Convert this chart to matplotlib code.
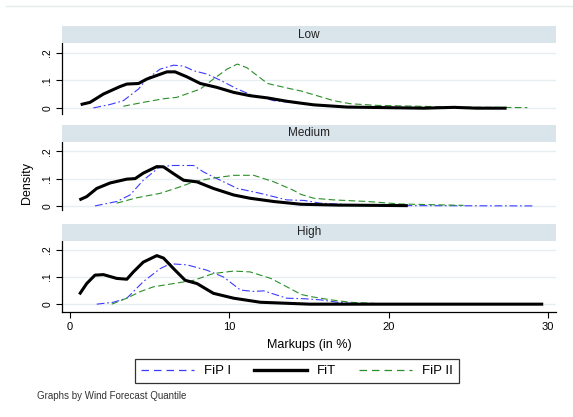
import matplotlib
matplotlib.use('Agg')
from matplotlib import pyplot as plt
from matplotlib.lines import Line2D
from matplotlib.patches import Rectangle

plt.rcParams['font.family'] = ['Liberation Sans', 'DejaVu Sans']

panels = ['Low', 'Medium', 'High']

# markups (in %) and density values
fit_low_x = [0.67, 1.26, 2.1, 3.14, 3.57, 4.3, 4.82, 6.08, 6.6, 7.34, 8.18, 9.22, 10.27, 11.3,
             12.4, 13.6, 14.5, 15.3, 17.4, 22.2, 24.1, 25.5, 27.4]
fit_low_y = [0.013, 0.021, 0.051, 0.078, 0.087, 0.089, 0.105, 0.131, 0.131, 0.113, 0.089, 0.075,
             0.057, 0.045, 0.037, 0.025, 0.018, 0.012, 0.004, 0.0, 0.003, 0.0, 0.0]
fip1_low_x = [1.47, 2.5, 3.35, 4.3, 4.82, 5.66, 6.5, 7.13, 7.76, 8.6, 9.43, 10.5, 11.3, 12.8,
              14.0, 15.5]
fip1_low_y = [0.001, 0.013, 0.027, 0.069, 0.105, 0.141, 0.155, 0.152, 0.135, 0.123, 0.101, 0.069,
              0.05, 0.027, 0.02, 0.012]
fip2_low_x = [3.35, 4.6, 5.87, 6.7, 8.18, 9.0, 9.86, 10.5, 11.1, 12.4, 13.6, 14.5, 15.5, 16.55,
              17.6, 19.3, 21.8, 23.9, 28.7]
fip2_low_y = [0.007, 0.021, 0.034, 0.039, 0.069, 0.105, 0.141, 0.159, 0.146, 0.089, 0.073, 0.062,
              0.045, 0.027, 0.016, 0.01, 0.007, 0.004, 0.002]

fit_med_x = [0.59, 1.05, 1.68, 2.52, 3.57, 4.09, 4.6, 5.45, 5.87, 6.5, 7.13, 7.97, 9.0, 10.27,
             11.3, 12.8, 14.5, 16.8, 21.2]
fit_med_y = [0.022, 0.034, 0.064, 0.084, 0.098, 0.1, 0.12, 0.144, 0.143, 0.118, 0.094, 0.088,
             0.064, 0.04, 0.028, 0.016, 0.006, 0.003, 0.001]
fip1_med_x = [1.57, 2.93, 3.77, 4.6, 5.55, 6.29, 7.76, 8.39, 9.22, 10.5, 11.95, 13.6, 14.7, 15.7,
              17.6, 21.0, 29.1]
fip1_med_y = [0.0, 0.016, 0.04, 0.094, 0.139, 0.148, 0.148, 0.124, 0.1, 0.064, 0.046, 0.022,
              0.02, 0.01, 0.004, 0.001, 0.0]
fip2_med_x = [2.93, 4.2, 5.66, 6.92, 7.76, 8.8, 10.27, 11.53, 12.8, 14.0, 14.5, 15.3, 16.55, 18.7,
              20.75, 23.9, 24.7]
fip2_med_y = [0.01, 0.03, 0.046, 0.07, 0.088, 0.1, 0.112, 0.112, 0.088, 0.058, 0.042, 0.028,
              0.022, 0.016, 0.007, 0.003, 0.002]

fit_high_x = [0.59, 1.05, 1.57, 2.1, 2.93, 3.57, 3.98, 4.6, 5.45, 5.87, 6.5, 7.23, 7.97, 9.0,
              10.27, 11.95, 15.05, 29.7]
fit_high_y = [0.036, 0.076, 0.107, 0.109, 0.095, 0.092, 0.119, 0.155, 0.179, 0.17, 0.131, 0.088,
              0.076, 0.04, 0.022, 0.007, 0.0, 0.0]
fip1_high_x = [1.68, 2.72, 3.57, 4.6, 5.66, 6.29, 7.34, 8.6, 9.64, 10.7, 11.5, 12.16, 13.6, 14.7,
               15.7, 16.8, 17.9]
fip1_high_y = [0.0, 0.007, 0.022, 0.083, 0.131, 0.149, 0.145, 0.125, 0.1, 0.052, 0.047, 0.049,
               0.022, 0.02, 0.016, 0.007, 0.002]
fip2_high_x = [2.62, 3.57, 4.4, 5.24, 6.5, 7.76, 9.0, 10.27, 11.3, 12.6, 13.8, 14.5, 15.1, 16.35,
               17.6, 19.3, 26.2]
fip2_high_y = [0.0, 0.022, 0.046, 0.064, 0.076, 0.088, 0.113, 0.122, 0.119, 0.095, 0.058, 0.036,
               0.028, 0.016, 0.007, 0.002, 0.0]

series = {
    'Low': [(fip1_low_x, fip1_low_y), (fit_low_x, fit_low_y), (fip2_low_x, fip2_low_y)],
    'Medium': [(fip1_med_x, fip1_med_y), (fit_med_x, fit_med_y), (fip2_med_x, fip2_med_y)],
    'High': [(fip1_high_x, fip1_high_y), (fit_high_x, fit_high_y), (fip2_high_x, fip2_high_y)],
}
legend_labels = ['FiP I', 'FiT', 'FiP II']

W, H = 573, 417
fig = plt.figure(figsize=(W / 100, H / 100), dpi=100)

# panel boxes in pixels: top, bottom of plot region, ylim bottom
boxes = {'Low': (43.3, 114, -0.021), 'Medium': (142, 210, -0.015), 'High': (240.7, 312.3, -0.030)}
strip_h = 17
left, right = 62, 556
blue = '#3b3bff'
green = '#2a8f2a'

for name in panels:
    top, bot, ylo = boxes[name]
    ax = fig.add_axes([left / W, 1 - bot / H, (right - left) / W, (bot - top) / H])
    fip1, fit, fip2 = series[name]
    ax.plot(fip1[0], fip1[1], color=blue, lw=0.8, dashes=(7, 2.5, 1.5, 2.5))
    ax.plot(fip2[0], fip2[1], color=green, lw=0.8, dashes=(6, 3))
    ax.plot(fit[0], fit[1], color='black', lw=2.2, solid_capstyle='butt')
    ax.set_xlim(-0.5, 30.5)
    ax.set_ylim(ylo, 0.234)
    ax.set_yticks([0, 0.1, 0.2])
    ax.set_yticklabels(['0', '.1', '.2'], rotation=90, va='center', fontsize=7.5)
    for g in [0, 0.1, 0.2]:
        ax.axhline(g, color='#e6eef0', lw=1, zorder=0)
    for s in ['top', 'right']:
        ax.spines[s].set_visible(False)
    ax.spines['left'].set_linewidth(0.9)
    ax.tick_params(axis='y', length=4, width=0.8, pad=3)
    if name == 'High':
        ax.set_xticks([0, 10, 20, 30])
        ax.tick_params(axis='x', length=4, width=0.8, labelsize=8, pad=3)
        ax.spines['bottom'].set_linewidth(0.9)
    else:
        ax.set_xticks([])
        ax.spines['bottom'].set_visible(False)
    # strip header
    fig.add_artist(Rectangle((left / W, 1 - top / H), (right - left) / W, strip_h / H,
                             facecolor='#dae4eb', edgecolor='none'))
    fig.text((left + right) / 2 / W, 1 - (top - strip_h / 2) / H, name,
             ha='center', va='center', fontsize=8.5, color='#222222')

fig.text(309 / W, 1 - 345 / H, 'Markups (in %)', ha='center', va='center', fontsize=9)
fig.text(27 / W, 1 - 183 / H, 'Density', ha='center', va='center', rotation=90, fontsize=9)
fig.text(37 / W, 1 - 396 / H, 'Graphs by Wind Forecast Quantile', ha='left', va='center',
         fontsize=7, color='#333333')
fig.add_artist(Line2D([6 / W, 1], [1 - 6 / H, 1 - 6 / H], color='#e4ecee', lw=1))

handles = [Line2D([], [], color=blue, lw=0.9, dashes=(6, 4)),
           Line2D([], [], color='black', lw=2.4),
           Line2D([], [], color=green, lw=0.9, dashes=(6, 4))]
leg = fig.legend(handles, legend_labels, ncol=3, loc='center',
                 bbox_to_anchor=(297 / W, 1 - 371 / H), fontsize=9.5, frameon=True,
                 fancybox=False, handlelength=4.0, columnspacing=1.7, borderpad=0.45,
                 handletextpad=0.8)
leg.get_frame().set_edgecolor('black')
leg.get_frame().set_linewidth(0.9)

fig.savefig('out.png', dpi=100)
